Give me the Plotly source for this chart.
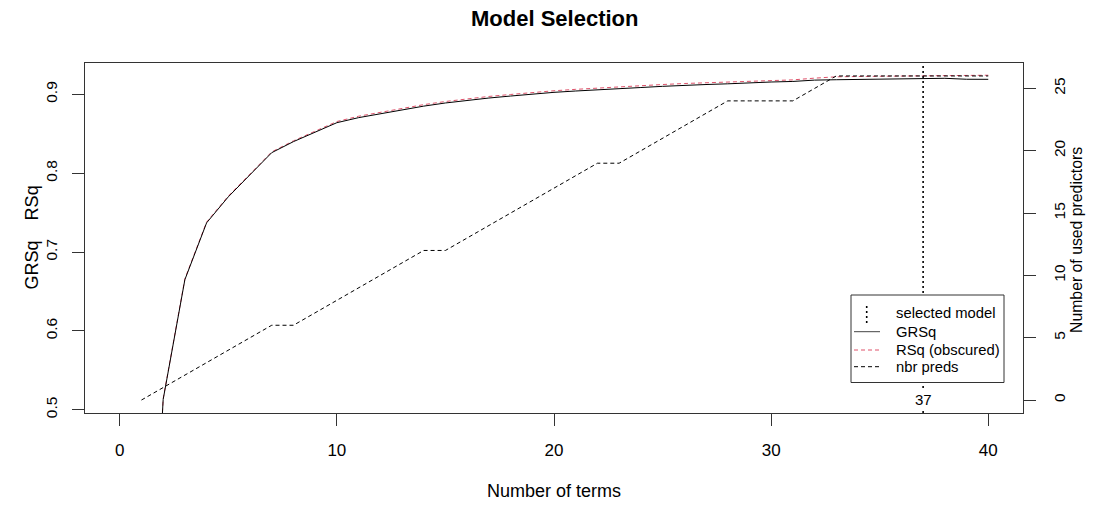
import plotly.graph_objects as go

# ---------------- data ----------------
terms = list(range(1, 41))
grsq = [0.0, 0.513, 0.665, 0.737, 0.770, 0.798, 0.826, 0.840, 0.852, 0.864,
        0.8704, 0.8755, 0.880, 0.885, 0.889, 0.8924, 0.8953, 0.8978, 0.9004, 0.9025,
        0.9042, 0.9054, 0.9067, 0.9086, 0.9101, 0.9115, 0.9124, 0.9133, 0.9147, 0.9156,
        0.9163, 0.9180, 0.9185, 0.9190, 0.9191, 0.9193, 0.9204, 0.9203, 0.9191, 0.9190]
rsq = [0.0, 0.514, 0.666, 0.738, 0.771, 0.799, 0.827, 0.841, 0.853, 0.8655,
       0.8722, 0.8773, 0.8819, 0.8869, 0.8909, 0.8943, 0.8973, 0.8998, 0.9024, 0.9045,
       0.9063, 0.9080, 0.9092, 0.9110, 0.9124, 0.9137, 0.9146, 0.9158, 0.9170, 0.9177,
       0.9183, 0.9205, 0.9222, 0.9226, 0.9228, 0.9230, 0.9240, 0.9241, 0.9241, 0.9242]
nbr_preds = [0, 1, 2, 3, 4, 5, 6, 6, 7, 8,
             9, 10, 11, 12, 12, 13, 14, 15, 16, 17,
             18, 19, 19, 20, 21, 22, 23, 24, 24, 24,
             24, 25, 26, 26, 26, 26, 26, 26, 26, 26]
selected_model = 37
x_ticks = [0, 10, 20, 30, 40]
left_ticks = [0.5, 0.6, 0.7, 0.8, 0.9]
right_ticks = [0, 5, 10, 15, 20, 25]
legend_labels = ["selected model", "GRSq", "RSq (obscured)", "nbr preds"]

# ---------------- layout helpers ----------------
W, H = 1093, 510
ML, MR, MT, MB = 85, 70, 63, 97
PW, PH = W - ML - MR, H - MT - MB


def px(xp):
    return (xp - ML) / PW


def py(yp):
    return (H - MB - yp) / PH


FONT = "Arial, Liberation Sans, sans-serif"
AX = "#333333"
PINK = "#DF536B"

fig = go.Figure()
fig.add_trace(go.Scatter(x=terms, y=nbr_preds, mode="lines", yaxis="y2",
                         line=dict(color="black", width=1, dash="4px,3px"),
                         showlegend=False, hoverinfo="skip"))
fig.add_trace(go.Scatter(x=terms, y=rsq, mode="lines",
                         line=dict(color=PINK, width=1, dash="4px,3px"),
                         showlegend=False, hoverinfo="skip"))
fig.add_trace(go.Scatter(x=terms, y=grsq, mode="lines",
                         line=dict(color="black", width=1),
                         showlegend=False, hoverinfo="skip"))

shapes = [
    dict(type="line", xref="x", yref="paper", x0=selected_model, x1=selected_model,
         y0=0, y1=1, line=dict(color="black", width=1.6, dash="2px,3px"), layer="above"),
    # legend box
    dict(type="rect", xref="paper", yref="paper", x0=px(851), x1=px(1004),
         y0=py(382.5), y1=py(295), fillcolor="white", line=dict(color=AX, width=1),
         layer="above"),
    dict(type="line", xref="paper", yref="paper", x0=px(866.7), x1=px(866.7),
         y0=py(323), y1=py(304), line=dict(color="black", width=1.6, dash="2px,3px"),
         layer="above"),
    dict(type="line", xref="paper", yref="paper", x0=px(854), x1=px(880),
         y0=py(331.7), y1=py(331.7), line=dict(color="#444444", width=1), layer="above"),
    dict(type="line", xref="paper", yref="paper", x0=px(854), x1=px(880),
         y0=py(350), y1=py(350), line=dict(color=PINK, width=1, dash="4px,3px"),
         layer="above"),
    dict(type="line", xref="paper", yref="paper", x0=px(854), x1=px(880),
         y0=py(366.7), y1=py(366.7), line=dict(color="black", width=1, dash="4px,3px"),
         layer="above"),
]

ann = []
for lab, yy in zip(legend_labels, [313.3, 331.7, 350, 366.7]):
    ann.append(dict(text=lab, xref="paper", yref="paper", x=px(894), y=py(yy),
                    xanchor="left", yanchor="middle", showarrow=False,
                    font=dict(family=FONT, size=14.8, color="black")))
ann += [
    dict(text="<b>Model Selection</b>", xref="paper", yref="paper", x=px(554), y=py(18),
         xanchor="center", yanchor="middle", showarrow=False,
         font=dict(family=FONT, size=22, color="black")),
    dict(text="Number of terms", xref="paper", yref="paper", x=px(554), y=py(491),
         xanchor="center", yanchor="middle", showarrow=False,
         font=dict(family=FONT, size=18, color="black")),
    dict(text="GRSq\u00a0\u00a0\u00a0\u00a0RSq", xref="paper", yref="paper", x=px(31.7),
         y=py(237.7), xanchor="center", yanchor="middle", textangle=-90, showarrow=False,
         font=dict(family=FONT, size=18, color="black")),
    dict(text="Number of used predictors", xref="paper", yref="paper", x=px(1076),
         y=py(240), xanchor="center", yanchor="middle", textangle=-90, showarrow=False,
         font=dict(family=FONT, size=15.8, color="black")),
    dict(text=str(selected_model), xref="x", yref="paper", x=selected_model, y=py(399),
         xanchor="center", yanchor="middle", showarrow=False, bgcolor="white",
         borderpad=0, font=dict(family=FONT, size=15, color="black")),
]

fig.update_layout(
    width=W, height=H, autosize=False,
    margin=dict(l=ML, r=MR, t=MT, b=MB, pad=0, autoexpand=False),
    paper_bgcolor="white", plot_bgcolor="white",
    showlegend=False,
    font=dict(family=FONT, color="black"),
    xaxis=dict(range=[-1.6, 41.6], tickvals=x_ticks, ticks="outside", ticklen=12,
               tickcolor=AX, showline=True, linecolor=AX, linewidth=1, mirror=True,
               showgrid=False, zeroline=False, tickfont=dict(size=17, family=FONT),
               ticklabelstandoff=10, automargin=False),
    yaxis=dict(range=[0.4959, 0.9397], tickvals=left_ticks,
               ticktext=[f"{v:.1f}" for v in left_ticks], ticks="outside", ticklen=12,
               tickcolor=AX, showline=True, linecolor=AX, linewidth=1, mirror=True,
               showgrid=False, zeroline=False, tickangle=-90, automargin=False,
               tickfont=dict(size=15.5, family=FONT), ticklabelstandoff=9),
    yaxis2=dict(range=[-1.04, 27.04], overlaying="y", side="right", tickvals=right_ticks,
                ticks="outside", ticklen=12, tickcolor=AX, showline=True, linecolor=AX,
                linewidth=1, showgrid=False, zeroline=False, tickangle=-90, automargin=False,
                tickfont=dict(size=15.5, family=FONT), ticklabelstandoff=10),
    shapes=shapes,
    annotations=ann,
)

fig.write_html("out.html")
